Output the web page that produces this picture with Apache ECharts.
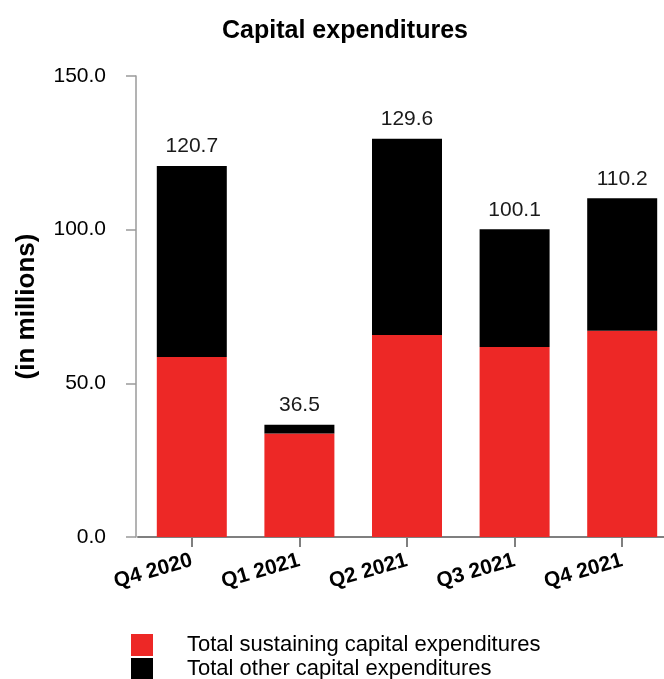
<!DOCTYPE html>
<html>
<head>
<meta charset="utf-8">
<script src="https://cdn.jsdelivr.net/npm/echarts@6/dist/echarts.min.js"></script>
<style>
  html, body { margin: 0; padding: 0; background: #ffffff; }
  #chart { width: 664px; height: 679px; }
</style>
</head>
<body>
<div id="chart"></div>
<script>
// 季度
const quarters = ['Q4 2020', 'Q1 2021', 'Q2 2021', 'Q3 2021', 'Q4 2021']
// sustaining capex (red)
const sustaining = [58.6, 33.7, 65.7, 61.8, 67.1]
// other capex (black)
const other = [62.1, 2.8, 63.9, 38.3, 43.1]
// totals shown above the bars
const totals = ['120.7', '36.5', '129.6', '100.1', '110.2']
const yTicks = { min: 0, max: 150, interval: 50 }

const font = 'Liberation Sans, Arial, sans-serif'
const legendText = {
  fontFamily: font,
  fontSize: 22,
  color: '#000000',
  padding: [0, 0, 0, 29],
}

const chart = echarts.init(document.getElementById('chart'))
chart.setOption({
  animation: false,
  title: {
    text: 'Capital expenditures',
    left: 340,
    top: 14,
    textAlign: 'center',
    textStyle: {
      fontFamily: font,
      fontSize: 25,
      fontWeight: 'bold',
      color: '#000000',
    },
  },
  grid: {
    left: 138,
    top: 76,
    width: 538,
    bottom: 142,
    outerBoundsMode: 'none',
  },
  // 两个图例分开放，避免竖排换列
  legend: [
    {
      left: 126,
      top: 629,
      itemWidth: 22,
      itemHeight: 22,
      icon: 'rect',
      data: ['Total sustaining capital expenditures'],
      textStyle: legendText,
    },
    {
      left: 126,
      top: 653,
      itemWidth: 22,
      itemHeight: 22,
      icon: 'rect',
      data: ['Total other capital expenditures'],
      textStyle: legendText,
    },
  ],
  xAxis: {
    type: 'category',
    data: quarters,
    axisLine: {
      show: true,
      lineStyle: {
        color: '#7f7f7f',
        width: 2,
      },
    },
    axisTick: {
      show: true,
      alignWithLabel: true,
      length: 10,
      lineStyle: {
        color: '#7f7f7f',
        width: 2,
      },
    },
    axisLabel: {
      rotate: 16,
      margin: 23,
      fontFamily: font,
      fontSize: 21,
      fontWeight: 'bold',
      color: '#000000',
    },
  },
  yAxis: {
    type: 'value',
    min: yTicks.min,
    max: yTicks.max,
    interval: yTicks.interval,
    offset: 2,
    name: '(in millions)',
    nameLocation: 'middle',
    nameGap: 96,
    nameTextStyle: {
      fontFamily: font,
      fontSize: 26,
      fontWeight: 'bold',
      color: '#000000',
    },
    splitLine: { show: false },
    axisLine: {
      show: true,
      lineStyle: {
        color: '#9a9a9a',
        width: 1.5,
      },
    },
    axisTick: {
      show: true,
      length: 10,
      lineStyle: {
        color: '#9a9a9a',
        width: 1.5,
      },
    },
    axisLabel: {
      margin: 30,
      fontFamily: font,
      fontSize: 21,
      color: '#000000',
      formatter: function (value) {
        return value.toFixed(1)
      },
    },
  },
  series: [
    {
      name: 'Total sustaining capital expenditures',
      type: 'bar',
      stack: 'capex',
      data: sustaining,
      barWidth: 70,
      itemStyle: {
        color: '#ED2826',
      },
    },
    {
      name: 'Total other capital expenditures',
      type: 'bar',
      stack: 'capex',
      data: other,
      barWidth: 70,
      itemStyle: {
        color: '#000000',
      },
      label: {
        show: true,
        position: 'top',
        distance: 9,
        fontFamily: font,
        fontSize: 21,
        color: '#1a1a1a',
        formatter: function (p) {
          return totals[p.dataIndex]
        },
      },
    },
  ],
})
</script>
</body>
</html>
